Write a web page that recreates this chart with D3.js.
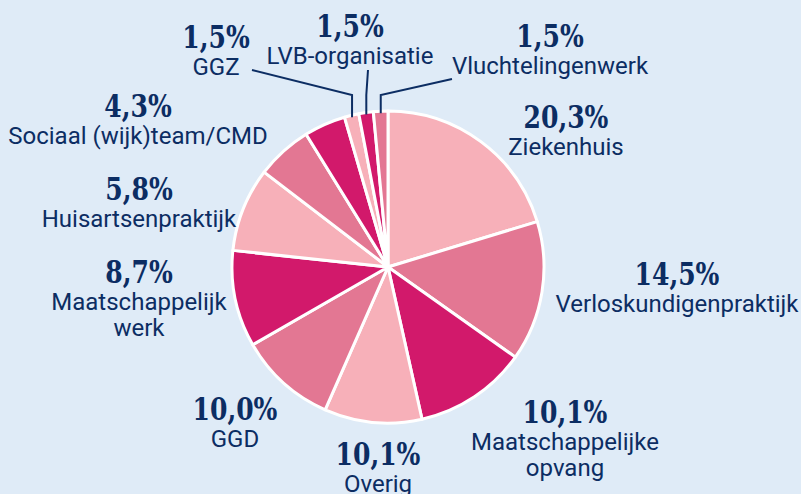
<!DOCTYPE html>
<html>
<head>
<meta charset="utf-8">
<script src="https://cdn.jsdelivr.net/npm/d3@7"></script>
<style>
  html, body { margin: 0; padding: 0; background: #dfebf7; overflow: hidden; }
  svg { display: block; }
  .pct { font-family: "DejaVu Serif Condensed", "DejaVu Serif", serif; font-stretch: condensed; font-weight: bold; font-size: 32px; fill: #0c2d63; }
  .lbl { font-family: Roboto, sans-serif; font-size: 24px; fill: #0c2d63; }
</style>
</head>
<body>
<svg width="801" height="494"></svg>
<script>
// slices clockwise from 12 o'clock, largest first (the 11,7% slice has no label in the picture)
var categories = ["Ziekenhuis", "Verloskundigenpraktijk", "", "Maatschappelijke opvang", "Overig", "GGD",
  "Maatschappelijk werk", "Huisartsenpraktijk", "Sociaal (wijk)team/CMD", "GGZ", "LVB-organisatie", "Vluchtelingenwerk"];
var values = [20.3, 14.5, 11.7, 10.1, 10.1, 10.0, 8.7, 5.8, 4.3, 1.5, 1.5, 1.5];
var shades = ["light", "mid", "dark", "light", "mid", "dark", "light", "mid", "dark", "light", "dark", "mid"];

var labelLines = {
  "Maatschappelijke opvang": ["Maatschappelijke", "opvang"],
  "Maatschappelijk werk": ["Maatschappelijk", "werk"]
};

// hand placed label spots (baseline of the percentage)
var labelPos = {
  "Ziekenhuis": [566, 128],
  "Verloskundigenpraktijk": [677, 285],
  "Maatschappelijke opvang": [565, 423],
  "Overig": [378, 465],
  "GGD": [235, 420],
  "Maatschappelijk werk": [139, 283],
  "Huisartsenpraktijk": [139, 200],
  "Sociaal (wijk)team/CMD": [138, 117],
  "GGZ": [216, 48],
  "LVB-organisatie": [350, 37],
  "Vluchtelingenwerk": [550, 47]
};
// leader lines for the tiny slices: where the line meets the label
var leaderEnd = {
  "GGZ": [252, 70],
  "LVB-organisatie": [368, 70],
  "Vluchtelingenwerk": [452, 79]
};

var svg = d3.select("svg"),
  cx = 388, cy = 267, radius = 156;

var color = d3.scaleOrdinal()
  .domain(["light", "mid", "dark"])
  .range(["#f7b0b9", "#e37793", "#d2196b"]);

var data = categories.map(function(c, i) {
  return {name: c, value: values[i], shade: shades[i]};
});

var pie = d3.pie().sort(null).value(function(d) { return d.value; });
var arc = d3.arc().innerRadius(0).outerRadius(radius);
var arcs = pie(data);

var g = svg.append("g").attr("transform", "translate(" + cx + "," + cy + ")");

g.selectAll("path.slice")
  .data(arcs)
  .enter().append("path")
  .attr("class", "slice")
  .attr("d", arc)
  .attr("fill", function(d) { return color(d.data.shade); })
  .attr("stroke", "#fff")
  .attr("stroke-width", 3)
  .attr("stroke-linejoin", "round");

var fmt = function(v) { return d3.format(".1f")(v).replace(".", ",") + "%"; };

// leader lines
arcs.forEach(function(d) {
  var end = leaderEnd[d.data.name];
  if (!end) return;
  var mid = (d.startAngle + d.endAngle) / 2;
  var x0 = cx + Math.sin(mid) * (radius - 2),
    y0 = cy - Math.cos(mid) * (radius - 2);
  var elbowY = 95;
  svg.append("polyline")
    .attr("points", [[x0, y0], [x0, elbowY], end].map(function(p) { return p.join(","); }).join(" "))
    .attr("fill", "none")
    .attr("stroke", "#0c2d63")
    .attr("stroke-width", 2);
});

// labels
var pctScale = 0.87;
arcs.forEach(function(d) {
  var pos = labelPos[d.data.name];
  if (!pos) return;
  svg.append("text")
    .attr("class", "pct")
    .attr("text-anchor", "middle")
    .attr("transform", "translate(" + pos[0] + "," + pos[1] + ") scale(" + pctScale + ",1)")
    .text(fmt(d.data.value));
  var lines = labelLines[d.data.name] || [d.data.name];
  lines.forEach(function(l, i) {
    svg.append("text")
      .attr("class", "lbl")
      .attr("text-anchor", "middle")
      .attr("x", pos[0])
      .attr("y", pos[1] + 27 + i * 26)
      .text(l);
  });
});
</script>
</body>
</html>
